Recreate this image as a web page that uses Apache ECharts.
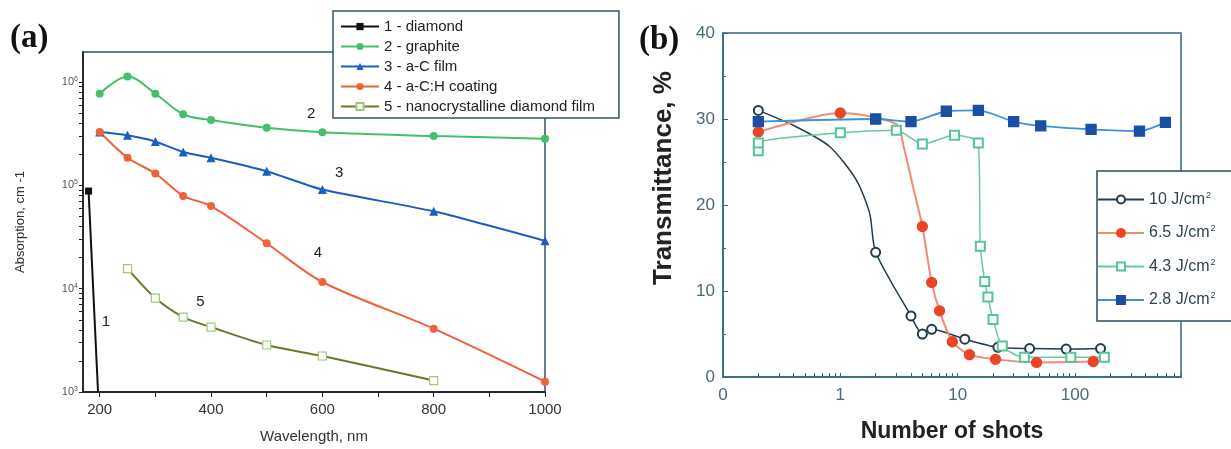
<!DOCTYPE html>
<html><head><meta charset="utf-8">
<script src="https://cdn.jsdelivr.net/npm/echarts@6/dist/echarts.min.js"></script>
<style>html,body{margin:0;padding:0;background:#fff}#c{width:1231px;height:449px}</style>
</head><body><div id="c"></div>
<script>
// ---------- Panel (a) data ----------
const diamondX = [180, 197];
const diamondY = [88000, 1000];
const graphiteX = [200, 250, 300, 350, 400, 500, 600, 800, 1000];
const graphiteY = [770000, 1130000, 770000, 487000, 428000, 360000, 326000, 300000, 283000];
const acFilmX = [200, 250, 300, 350, 400, 500, 600, 800, 1000];
const acFilmY = [328000, 305000, 265000, 210000, 185000, 137000, 91000, 56000, 29000];
const achX = [200, 250, 300, 350, 400, 500, 600, 800, 1000];
const achY = [328000, 185000, 130000, 79000, 63000, 27500, 11600, 4100, 1260];
const ncdX = [250, 300, 350, 400, 500, 600, 800];
const ncdY = [15600, 8100, 5300, 4250, 2850, 2230, 1290];
const namesA = ['1 - diamond', '2 - graphite', '3 - a-C film', '4 - a-C:H coating', '5 - nanocrystalline diamond film'];
const curveLabelsA = ['1', '2', '3', '4', '5'];
const curveLabelX = [211, 580, 630, 592, 381];
const curveLabelY = [4800, 490000, 131000, 22300, 7500];
const xLabelsA = [200, 400, 600, 800, 1000];
const xTicksA = [200, 300, 400, 500, 600, 700, 800, 900, 1000];
const yLabelsA = [1000, 10000, 100000, 1000000];
const yTicksA = [1000,2000,3000,4000,5000,6000,7000,8000,9000,10000,20000,30000,40000,50000,60000,70000,80000,90000,100000,200000,300000,400000,500000,600000,700000,800000,900000,1000000];

// ---------- Panel (b) data ----------
const s10X = [0.2, 2, 4, 5, 6, 11.5, 22, 41, 84, 165];
const s10Y = [31.0, 14.5, 7.1, 5.0, 5.55, 4.4, 3.45, 3.3, 3.25, 3.3];
const s10CurveX = [0.42, 0.81, 1.37, 1.78];
const s10CurveY = [29.1, 26.8, 22.9, 19.0];
const s65X = [0.2, 1, 5, 6, 7, 9, 12.6, 21, 47, 143];
const s65Y = [28.5, 30.7, 17.5, 11.0, 7.7, 4.1, 2.6, 2.05, 1.7, 1.8];
const s65CurveX = [3.0, 3.5, 4.1];
const s65CurveY = [29.4, 26.5, 22.5];
const s43X = [0.2, 0.2, 1, 3, 5, 9.4, 15, 15.6, 17, 18.1, 20, 24, 37, 92, 178];
const s43Y = [26.3, 27.2, 28.4, 28.7, 27.1, 28.1, 27.2, 15.2, 11.1, 9.3, 6.7, 3.6, 2.3, 2.3, 2.3];
const s28X = [0.2, 2, 4, 8, 15, 30, 51, 137, 354, 589];
const s28Y = [29.7, 30.0, 29.7, 30.9, 31.0, 29.7, 29.2, 28.8, 28.6, 29.6];
const namesB = ['10 J/cm2', '6.5 J/cm2', '4.3 J/cm2', '2.8 J/cm2'];
const xLabelsB = [0.1, 1, 10, 100];
const xTicksB = [0.1,0.2,0.3,0.4,0.5,0.6,0.7,0.8,0.9,1,2,3,4,5,6,7,8,9,10,20,30,40,50,60,70,80,90,100,200,300,400,500,600,700,800];

function pairs(xs, ys) { return xs.map((x, i) => [x, ys[i]]); }
function withCurve(mx, my, cx, cy) {
  const pts = mx.map((x, i) => ({ value: [x, my[i]] }))
    .concat(cx.map((x, i) => ({ value: [x, cy[i]], symbol: 'none' })));
  pts.sort((a, b) => a.value[0] - b.value[0]);
  return pts;
}

const FONT = 'Liberation Sans, Arial, sans-serif';
const chart = echarts.init(document.getElementById('c'), null, { renderer: 'canvas' });

const seriesA = [
  { name: namesA[0], color: '#111111', line: '#111111', sym: 'rect', size: 7, data: diamondX.map((x, i) => i === 1 ? { value: [x, diamondY[i]], symbol: 'none' } : { value: [x, diamondY[i]] }), smooth: false },
  { name: namesA[1], color: '#45bf6c', line: '#45bf6c', sym: 'circle', size: 8, data: pairs(graphiteX, graphiteY), smooth: 0.35 },
  { name: namesA[2], color: '#1d5cc0', line: '#1d5cc0', sym: 'triangle', size: 9, data: pairs(acFilmX, acFilmY), smooth: 0.2 },
  { name: namesA[3], color: '#f0613d', line: '#f0613d', sym: 'circle', size: 8, data: pairs(achX, achY), smooth: 0.3 },
  { name: namesA[4], color: '#ffffff', border: '#9ccc78', line: '#6b7a2a', sym: 'rect', size: 8, data: pairs(ncdX, ncdY), smooth: 0.3 }
].map((s, k) => ({
  type: 'line', name: s.name, xAxisIndex: 0, yAxisIndex: 0,
  data: s.data, smooth: s.smooth, symbol: s.sym, symbolSize: s.size, showAllSymbol: true,
  lineStyle: { color: s.line, width: 2 },
  itemStyle: { color: s.color, borderColor: s.border || s.color, borderWidth: s.border ? 1.2 : 0 },
  clip: true, z: 3,
  markPoint: {
    symbol: 'circle', symbolSize: 1, itemStyle: { color: 'rgba(0,0,0,0)' },
    label: { show: true, position: 'inside', formatter: '{b}', color: '#222', fontSize: 15, fontFamily: FONT },
    data: [{ name: curveLabelsA[k], coord: [curveLabelX[k], curveLabelY[k]] }]
  }
}));

const seriesB = [
  { name: namesB[0], data: withCurve(s10X, s10Y, s10CurveX, s10CurveY), sym: 'emptyCircle', size: 9, color: '#1f3d4c', line: '#1f3d4c', width: 1.5 },
  { name: namesB[1], data: withCurve(s65X, s65Y, s65CurveX, s65CurveY), sym: 'circle', size: 10, color: '#ea4526', line: '#f28a74', width: 2 },
  { name: namesB[2], data: pairs(s43X, s43Y), sym: 'emptyRect', size: 9, color: '#55c596', line: '#66cc9a', width: 1.5 },
  { name: namesB[3], data: pairs(s28X, s28Y), sym: 'rect', size: 10, color: '#1b4fa3', line: '#3c92dc', width: 1.8 }
].map(s => ({
  type: 'line', name: s.name, xAxisIndex: 1, yAxisIndex: 1,
  data: s.data, smooth: 0.25, symbol: s.sym, symbolSize: s.size, showAllSymbol: true,
  lineStyle: { color: s.line, width: s.width },
  itemStyle: { color: s.color, borderColor: s.color, borderWidth: 1.3 },
  z: 3
}));

chart.setOption({
  animation: false,
  backgroundColor: '#ffffff',
  title: [
    { text: '(a)', left: 5, top: 17, textStyle: { fontFamily: 'Liberation Serif, serif', fontWeight: 'bold', fontSize: 33, color: '#111' } },
    { text: '(b)', left: 634, top: 19, textStyle: { fontFamily: 'Liberation Serif, serif', fontWeight: 'bold', fontSize: 33, color: '#111' } }
  ],
  grid: [
    { left: 83, top: 52, width: 462, height: 340, show: true, borderColor: '#2f5566', borderWidth: 1.5, backgroundColor: 'transparent' },
    { left: 723, top: 33, width: 458, height: 344, show: true, borderColor: '#2e6a80', borderWidth: 1.5, backgroundColor: 'transparent' }
  ],
  legend: [
    {
      data: namesA, orient: 'vertical', left: 333, top: 11,
      padding: [8, 24, 4, 7], itemGap: 5, itemWidth: 38, itemHeight: 9,
      backgroundColor: '#ffffff', borderColor: '#2f5566', borderWidth: 1.5, borderRadius: 0,
      textStyle: { fontFamily: FONT, fontSize: 15, color: '#222' }, z: 10
    },
    {
      data: namesB, orient: 'vertical', left: 1097, top: 171,
      padding: [20, 40, 13, 0], itemGap: 17, itemWidth: 46, itemHeight: 10,
      backgroundColor: '#ffffff', borderColor: '#2e4e5e', borderWidth: 1.5, borderRadius: 0,
      formatter: n => n.replace('cm2', 'cm{sup|2}'),
      textStyle: { fontFamily: FONT, fontSize: 16, color: '#2d4550', rich: { sup: { fontSize: 9, verticalAlign: 'top', padding: [0, 0, 8, 1], color: '#2d4550' } } }, z: 10
    }
  ],
  xAxis: [
    {
      type: 'value', gridIndex: 0, min: 170, max: 1000,
      name: 'Wavelength, nm', nameLocation: 'middle', nameGap: 37,
      nameTextStyle: { fontFamily: FONT, fontSize: 15, color: '#333' },
      axisLine: { show: true, lineStyle: { color: '#111', width: 1.5 } },
      axisTick: { show: true, inside: false, length: 5, customValues: xTicksA, lineStyle: { color: '#222' } },
      axisLabel: { customValues: xLabelsA, formatter: v => String(v), fontFamily: FONT, fontSize: 15, color: '#333', margin: 10 },
      splitLine: { show: false }
    },
    {
      type: 'log', logBase: 10, gridIndex: 1, min: 0.1, max: 800,
      name: 'Number of shots', nameLocation: 'middle', nameGap: 43,
      nameTextStyle: { fontFamily: FONT, fontSize: 23, fontWeight: 'bold', color: '#222' },
      axisLine: { show: true, lineStyle: { color: '#2e6a80', width: 1.5 } },
      axisTick: { show: true, inside: true, length: 4, customValues: xTicksB, lineStyle: { color: '#2e6a80' } },
      axisLabel: { customValues: xLabelsB, formatter: v => (v < 0.5 ? '0' : String(Math.round(v))), fontFamily: FONT, fontSize: 17, color: '#4a6a78', margin: 10 },
      splitLine: { show: false }
    }
  ],
  yAxis: [
    {
      type: 'log', logBase: 10, gridIndex: 0, min: 1000, max: 1950000,
      name: 'Absorption, cm -1', nameLocation: 'middle', nameGap: 56, nameRotate: 90,
      nameTextStyle: { fontFamily: FONT, fontSize: 13, color: '#333' },
      axisLine: { show: true, lineStyle: { color: '#111', width: 1.5 } },
      axisTick: { show: true, inside: false, length: 4, customValues: yTicksA, lineStyle: { color: '#222' } },
      axisLabel: {
        customValues: yLabelsA, fontFamily: FONT, fontSize: 11, color: '#555', margin: 5,
        formatter: v => '10{sup|' + Math.round(Math.log10(v)) + '}',
        rich: { sup: { fontSize: 7, verticalAlign: 'top', padding: [0, 0, 6, 0], color: '#555' } }
      },
      splitLine: { show: false }
    },
    {
      type: 'value', gridIndex: 1, min: 0, max: 40, interval: 10,
      name: 'Transmittance, %', nameLocation: 'middle', nameGap: 46, nameRotate: 90,
      nameTextStyle: { fontFamily: FONT, fontSize: 26, fontWeight: 'bold', color: '#222', padding: [0, 0, 0, 54] },
      axisLine: { show: true, lineStyle: { color: '#2e6a80', width: 1.5 } },
      axisTick: { show: true, inside: true, length: 5, lineStyle: { color: '#2e6a80' } },
      minorTick: { show: true, splitNumber: 2, length: 3, lineStyle: { color: '#2e6a80' } },
      axisLabel: { fontFamily: FONT, fontSize: 17, color: '#4a6a78', margin: 8 },
      splitLine: { show: false }
    }
  ],
  series: seriesA.concat(seriesB)
});
</script>
</body></html>
